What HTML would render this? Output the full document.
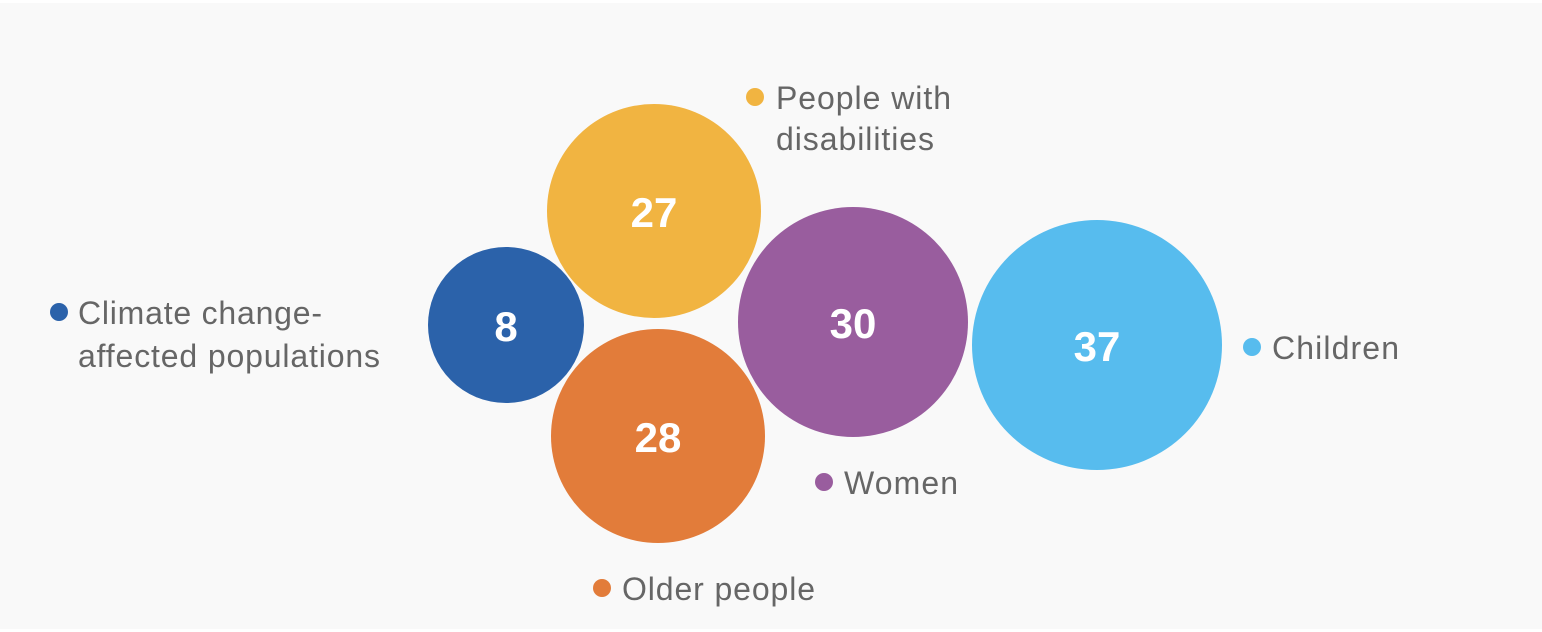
<!DOCTYPE html>
<html><head><style>
html,body{margin:0;padding:0;background:#fff;}
svg{display:block;}
text{font-family:"Liberation Sans",Arial,sans-serif;}
</style></head><body>
<svg width="1542" height="632" viewBox="0 0 1542 632">
<rect x="0" y="3" width="1542" height="626" fill="#f9f9f9"/>
<circle cx="506" cy="325" r="78" fill="#2b62aa"/>
<circle cx="654" cy="211" r="107" fill="#f1b441"/>
<circle cx="658" cy="436" r="107" fill="#e27c3a"/>
<circle cx="853" cy="322" r="115" fill="#995d9e"/>
<circle cx="1097" cy="345" r="125" fill="#57bcee"/>
<g fill="#fff" font-weight="bold" font-size="42" text-anchor="middle">
<text x="506" y="341">8</text>
<text x="654" y="227">27</text>
<text x="658" y="452">28</text>
<text x="853" y="338">30</text>
<text x="1097" y="361">37</text>
</g>
<g fill="#666" font-size="32">
<circle cx="59" cy="312" r="9" fill="#2b62aa"/>
<text x="78" y="324" textLength="244" lengthAdjust="spacing">Climate change-</text>
<text x="78" y="367" textLength="302" lengthAdjust="spacing">affected populations</text>
<circle cx="755" cy="97" r="9" fill="#f1b441"/>
<text x="776" y="109" textLength="175" lengthAdjust="spacing">People with</text>
<text x="776" y="150" textLength="158" lengthAdjust="spacing">disabilities</text>
<circle cx="1252" cy="347" r="9" fill="#57bcee"/>
<text x="1272" y="359" textLength="127" lengthAdjust="spacing">Children</text>
<circle cx="824" cy="482" r="9" fill="#995d9e"/>
<text x="844" y="494" textLength="114" lengthAdjust="spacing">Women</text>
<circle cx="602" cy="588" r="9" fill="#e27c3a"/>
<text x="622" y="600" textLength="193" lengthAdjust="spacing">Older people</text>
</g>
</svg>
</body></html>
